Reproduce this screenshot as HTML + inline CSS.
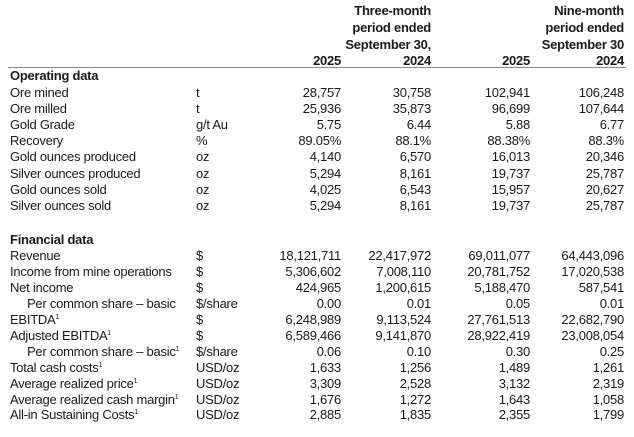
<!DOCTYPE html>
<html><head><meta charset="utf-8"><style>
body{margin:0;width:634px;height:437px;background:#fff;position:relative;overflow:hidden;font-family:"Liberation Sans",Arial,sans-serif;font-size:13px;letter-spacing:-0.25px;color:#1a1a1a}
.r{position:absolute;left:0;width:634px;height:16px;line-height:16px;white-space:nowrap}
.r span{position:absolute}
.l{left:10px}.i{left:27px}.u{left:196px}
.c1,.c2,.c3,.c4{text-align:right;width:120px}
.c1{right:293px}.c2{right:203px}.c3{right:104px}.c4{right:10px}
b{font-weight:bold}
sup{font-size:7px;line-height:0;vertical-align:5px}
.hr{position:absolute;left:8px;width:618px;top:67px;border-top:1px solid #888}
</style></head><body>
<div class="r" style="top:3px"><b><span class="c2">Three-month</span><span class="c4">Nine-month</span></b></div>
<div class="r" style="top:20px"><b><span class="c2">period ended</span><span class="c4">period ended</span></b></div>
<div class="r" style="top:37px"><b><span class="c2">September 30,</span><span class="c4">September 30</span></b></div>
<div class="r" style="top:53px"><b><span class="c1">2025</span><span class="c2">2024</span><span class="c3">2025</span><span class="c4">2024</span></b></div>
<div class="hr"></div>
<div class="r" style="top:68px"><b><span class="l">Operating data</span></b></div>
<div class="r" style="top:85px"><span class="l">Ore mined</span><span class="u">t</span><span class="c1">28,757</span><span class="c2">30,758</span><span class="c3">102,941</span><span class="c4">106,248</span></div>
<div class="r" style="top:101px"><span class="l">Ore milled</span><span class="u">t</span><span class="c1">25,936</span><span class="c2">35,873</span><span class="c3">96,699</span><span class="c4">107,644</span></div>
<div class="r" style="top:117px"><span class="l">Gold Grade</span><span class="u">g/t Au</span><span class="c1">5.75</span><span class="c2">6.44</span><span class="c3">5.88</span><span class="c4">6.77</span></div>
<div class="r" style="top:133px"><span class="l">Recovery</span><span class="u">%</span><span class="c1">89.05%</span><span class="c2">88.1%</span><span class="c3">88.38%</span><span class="c4">88.3%</span></div>
<div class="r" style="top:149px"><span class="l">Gold ounces produced</span><span class="u">oz</span><span class="c1">4,140</span><span class="c2">6,570</span><span class="c3">16,013</span><span class="c4">20,346</span></div>
<div class="r" style="top:166px"><span class="l">Silver ounces produced</span><span class="u">oz</span><span class="c1">5,294</span><span class="c2">8,161</span><span class="c3">19,737</span><span class="c4">25,787</span></div>
<div class="r" style="top:182px"><span class="l">Gold ounces sold</span><span class="u">oz</span><span class="c1">4,025</span><span class="c2">6,543</span><span class="c3">15,957</span><span class="c4">20,627</span></div>
<div class="r" style="top:198px"><span class="l">Silver ounces sold</span><span class="u">oz</span><span class="c1">5,294</span><span class="c2">8,161</span><span class="c3">19,737</span><span class="c4">25,787</span></div>
<div class="r" style="top:232px"><b><span class="l">Financial data</span></b></div>
<div class="r" style="top:248px"><span class="l">Revenue</span><span class="u">$</span><span class="c1">18,121,711</span><span class="c2">22,417,972</span><span class="c3">69,011,077</span><span class="c4">64,443,096</span></div>
<div class="r" style="top:264px"><span class="l">Income from mine operations</span><span class="u">$</span><span class="c1">5,306,602</span><span class="c2">7,008,110</span><span class="c3">20,781,752</span><span class="c4">17,020,538</span></div>
<div class="r" style="top:280px"><span class="l">Net income</span><span class="u">$</span><span class="c1">424,965</span><span class="c2">1,200,615</span><span class="c3">5,188,470</span><span class="c4">587,541</span></div>
<div class="r" style="top:296px"><span class="i">Per common share – basic</span><span class="u">$/share</span><span class="c1">0.00</span><span class="c2">0.01</span><span class="c3">0.05</span><span class="c4">0.01</span></div>
<div class="r" style="top:312px"><span class="l">EBITDA<sup>1</sup></span><span class="u">$</span><span class="c1">6,248,989</span><span class="c2">9,113,524</span><span class="c3">27,761,513</span><span class="c4">22,682,790</span></div>
<div class="r" style="top:328px"><span class="l">Adjusted EBITDA<sup>1</sup></span><span class="u">$</span><span class="c1">6,589,466</span><span class="c2">9,141,870</span><span class="c3">28,922,419</span><span class="c4">23,008,054</span></div>
<div class="r" style="top:344px"><span class="i">Per common share – basic<sup>1</sup></span><span class="u">$/share</span><span class="c1">0.06</span><span class="c2">0.10</span><span class="c3">0.30</span><span class="c4">0.25</span></div>
<div class="r" style="top:360px"><span class="l">Total cash costs<sup>1</sup></span><span class="u">USD/oz</span><span class="c1">1,633</span><span class="c2">1,256</span><span class="c3">1,489</span><span class="c4">1,261</span></div>
<div class="r" style="top:376px"><span class="l">Average realized price<sup>1</sup></span><span class="u">USD/oz</span><span class="c1">3,309</span><span class="c2">2,528</span><span class="c3">3,132</span><span class="c4">2,319</span></div>
<div class="r" style="top:392px"><span class="l">Average realized cash margin<sup>1</sup></span><span class="u">USD/oz</span><span class="c1">1,676</span><span class="c2">1,272</span><span class="c3">1,643</span><span class="c4">1,058</span></div>
<div class="r" style="top:407px"><span class="l">All-in Sustaining Costs<sup>1</sup></span><span class="u">USD/oz</span><span class="c1">2,885</span><span class="c2">1,835</span><span class="c3">2,355</span><span class="c4">1,799</span></div>
</body></html>
